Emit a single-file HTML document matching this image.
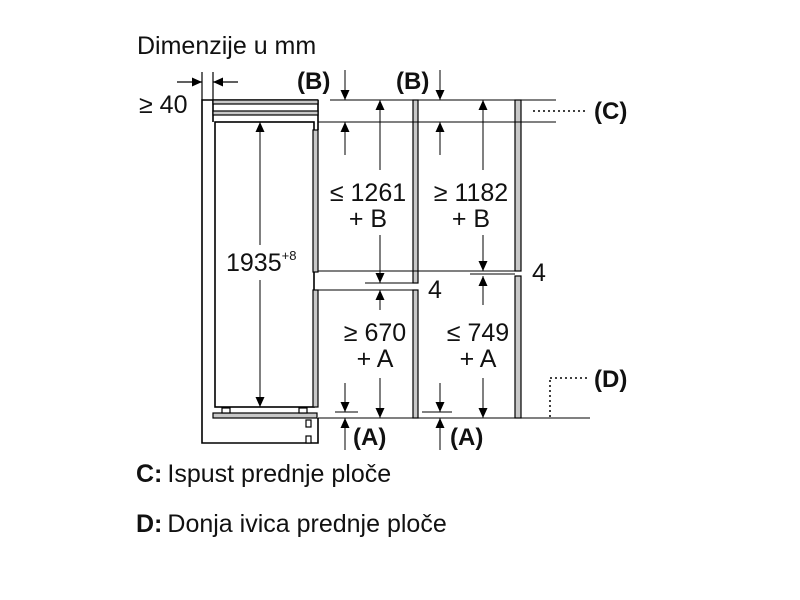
<!DOCTYPE html>
<html><head><style>
html,body{margin:0;padding:0;background:#fff;}
svg{display:block;}
text{font-family:"Liberation Sans",Arial,sans-serif;fill:#111;}
</style></head><body>
<svg width="800" height="600" viewBox="0 0 800 600" xmlns="http://www.w3.org/2000/svg">
<defs>
<marker id="a" markerUnits="userSpaceOnUse" markerWidth="10" markerHeight="12" refX="10" refY="4.5" orient="auto">
<path d="M0,0 L10,4.5 L0,9 z" fill="#000"/></marker>
</defs>
<text x="137" y="54" font-size="25">Dimenzije u mm</text>
<text x="139" y="113" font-size="25">≥ 40</text>
<g stroke="#000" stroke-width="1.2" fill="none">
<line x1="202" y1="72" x2="202" y2="100"/><line x1="213" y1="72" x2="213" y2="100"/>
<line x1="177" y1="82" x2="202" y2="82" marker-end="url(#a)"/>
<line x1="238" y1="82" x2="213" y2="82" marker-end="url(#a)"/>
</g>
<g stroke="#000" stroke-width="1.6" fill="none">
<polyline points="318,100 202,100 202,443 318,443 318,418"/>
<line x1="213" y1="100" x2="213" y2="122"/>
<rect x="215" y="122" width="99" height="285"/>
<line x1="318" y1="100" x2="318" y2="130"/>
</g>
<g stroke="#000" stroke-width="1.2" fill="#c8c8c8">
<rect x="213" y="100" width="105" height="4"/>
<rect x="213" y="111" width="105" height="4"/>
<rect x="313" y="130" width="5" height="142"/>
<rect x="313" y="290" width="5" height="117"/>
<rect x="213" y="413" width="104" height="5"/>
<rect x="222" y="408" width="8" height="5" fill="#fff"/>
<rect x="299" y="408" width="8" height="5" fill="#fff"/>
<rect x="306" y="420" width="5" height="7" fill="#fff"/>
<rect x="306" y="436" width="5" height="7" fill="#fff"/>
</g>
<g stroke="#000" stroke-width="1.2" fill="#c8c8c8">
<rect x="413" y="100" width="5" height="183"/>
<rect x="413" y="290" width="5" height="128"/>
<rect x="515" y="100" width="6" height="171"/>
<rect x="515" y="276" width="6" height="142"/>
</g>
<g stroke="#000" stroke-width="1" fill="none">
<line x1="330" y1="100" x2="556" y2="100"/>
<line x1="318" y1="122" x2="556" y2="122"/>
<line x1="318" y1="271" x2="515" y2="271"/>
<line x1="365" y1="283" x2="413" y2="283"/>
<line x1="318" y1="290" x2="413" y2="290"/>
<line x1="470" y1="274" x2="515" y2="274"/>
<line x1="318" y1="418" x2="590" y2="418"/>
<line x1="335" y1="412" x2="358" y2="412"/>
<line x1="422" y1="412" x2="452" y2="412"/>
</g>
<g stroke="#000" stroke-width="1.5" stroke-dasharray="2,3" fill="none">
<line x1="533" y1="111" x2="586" y2="111"/>
<line x1="550" y1="378" x2="590" y2="378"/>
<line x1="550" y1="380" x2="550" y2="418"/>
</g>
<g stroke="#000" stroke-width="1" fill="none">
<line x1="260" y1="245" x2="260" y2="122" marker-end="url(#a)"/>
<line x1="260" y1="280" x2="260" y2="407" marker-end="url(#a)"/>
<line x1="345" y1="70" x2="345" y2="100" marker-end="url(#a)"/>
<line x1="345" y1="155" x2="345" y2="122" marker-end="url(#a)"/>
<line x1="380" y1="170" x2="380" y2="100" marker-end="url(#a)"/>
<line x1="380" y1="235" x2="380" y2="283" marker-end="url(#a)"/>
<line x1="380" y1="310" x2="380" y2="290" marker-end="url(#a)"/>
<line x1="380" y1="378" x2="380" y2="418" marker-end="url(#a)"/>
<line x1="345" y1="383" x2="345" y2="412" marker-end="url(#a)"/>
<line x1="345" y1="450" x2="345" y2="418" marker-end="url(#a)"/>
<line x1="440" y1="70" x2="440" y2="100" marker-end="url(#a)"/>
<line x1="440" y1="155" x2="440" y2="122" marker-end="url(#a)"/>
<line x1="483" y1="170" x2="483" y2="100" marker-end="url(#a)"/>
<line x1="483" y1="235" x2="483" y2="271" marker-end="url(#a)"/>
<line x1="483" y1="305" x2="483" y2="276" marker-end="url(#a)"/>
<line x1="483" y1="378" x2="483" y2="418" marker-end="url(#a)"/>
<line x1="440" y1="383" x2="440" y2="412" marker-end="url(#a)"/>
<line x1="440" y1="450" x2="440" y2="418" marker-end="url(#a)"/>
</g>
<text x="226" y="271" font-size="25">1935<tspan font-size="13" dy="-11">+8</tspan></text>
<text x="297" y="89" font-size="24" font-weight="bold">(B)</text>
<text x="396" y="89" font-size="24" font-weight="bold">(B)</text>
<text x="368" y="201" font-size="25" text-anchor="middle">≤ 1261</text>
<text x="368" y="227" font-size="25" text-anchor="middle">+ B</text>
<text x="471" y="201" font-size="25" text-anchor="middle">≥ 1182</text>
<text x="471" y="227" font-size="25" text-anchor="middle">+ B</text>
<text x="428" y="298" font-size="25">4</text>
<text x="532" y="281" font-size="25">4</text>
<text x="375" y="341" font-size="25" text-anchor="middle">≥ 670</text>
<text x="375" y="367" font-size="25" text-anchor="middle">+ A</text>
<text x="478" y="341" font-size="25" text-anchor="middle">≤ 749</text>
<text x="478" y="367" font-size="25" text-anchor="middle">+ A</text>
<text x="353" y="445" font-size="24" font-weight="bold">(A)</text>
<text x="450" y="445" font-size="24" font-weight="bold">(A)</text>
<text x="594" y="119" font-size="24" font-weight="bold">(C)</text>
<text x="594" y="387" font-size="24" font-weight="bold">(D)</text>
<text x="136" y="482" font-size="25"><tspan font-weight="bold">C:</tspan><tspan dx="5">Ispust prednje ploče</tspan></text>
<text x="136" y="532" font-size="25"><tspan font-weight="bold">D:</tspan><tspan dx="5">Donja ivica prednje ploče</tspan></text>
</svg>
</body></html>
